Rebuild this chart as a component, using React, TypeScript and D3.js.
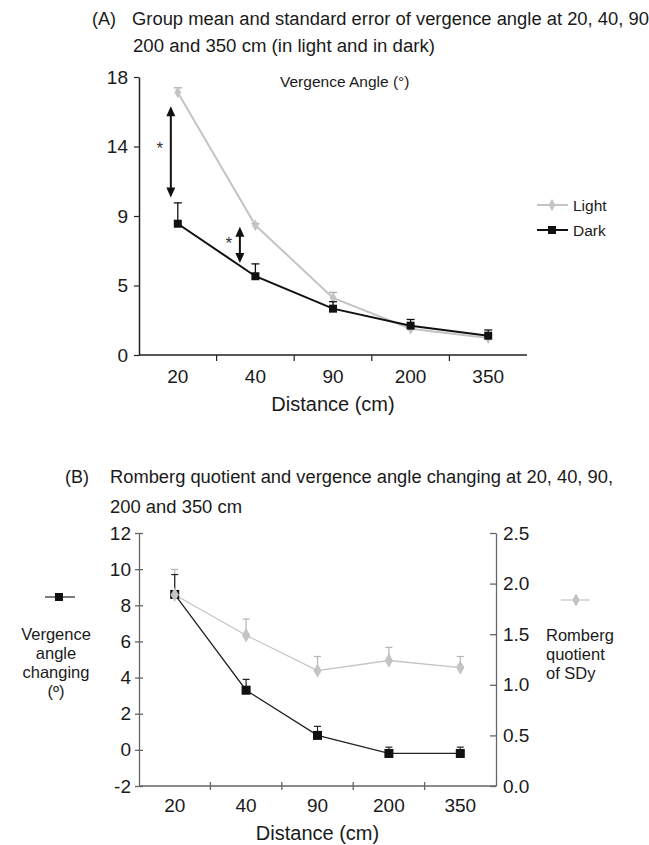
import React, { useRef, useEffect } from "react";
import * as d3 from "d3";

// viewing distances (cm)
const distances = ["20", "40", "90", "200", "350"];

// (A) vergence angle, group mean and SE
const lightMean = [17.0, 8.4, 3.7, 1.7, 1.1];
const lightSE = [0.3, 0.1, 0.35, 0.15, 0.15];
const darkMean = [8.5, 5.1, 3.0, 1.9, 1.25];
const darkSE = [1.35, 0.8, 0.45, 0.4, 0.37];
const angleTicks = [0, 4.5, 9, 13.5, 18];

// significance arrows (light vs dark)
const sigArrows = [
  { cat: "20", offset: 0.41, from: 16.1, to: 10.2, star: 13.5 },
  { cat: "40", offset: 0.3, from: 8.3, to: 5.95, star: 7.3 },
];

// (B) vergence angle changing and Romberg quotient
const vergenceChange = [8.6, 3.3, 0.8, -0.2, -0.2];
const vergenceChangeSE = [1.1, 0.6, 0.5, 0.35, 0.35];
const romberg = [1.89, 1.49, 1.14, 1.24, 1.17];
const rombergSE = [0.25, 0.16, 0.14, 0.13, 0.11];
const leftTicks = [-2, 0, 2, 4, 6, 8, 10, 12];
const rightTicks = [0, 0.5, 1.0, 1.5, 2.0, 2.5];

const FONT = "'Liberation Sans', Arial, sans-serif";
const LIGHT = "#c4c4c4";
const TXT = "#1a1a1a";

function Chart() {
  const ref = useRef<SVGSVGElement>(null);

  useEffect(() => {
    const svg = d3.select(ref.current);
    svg.selectAll("*").remove(); // Clear previous contents
    svg.style("font-family", FONT);

    // small helper for the stretched title lines
    const title = (g: any, x: number, y: number, t: string, w?: number) => {
      const el = g.append("text").attr("x", x).attr("y", y).attr("font-size", 18).attr("fill", TXT).text(t);
      if (w) el.attr("textLength", w).attr("lengthAdjust", "spacingAndGlyphs");
      return el;
    };

    // ---------- panel A ----------
    const gA = svg.append("g");
    const xA = d3.scaleBand().domain(distances).range([139, 527]);
    const yA = d3.scaleLinear().domain([0, 18]).range([355, 77]);
    const cxA = (d: string) => (xA(d) as number) + xA.bandwidth() / 2;

    title(gA, 92, 25, "(A)");
    title(gA, 132, 25, "Group mean and standard error of vergence angle at 20, 40, 90,", 522);
    title(gA, 133, 52, "200 and 350 cm (in light and in dark)", 302);
    gA.append("text").attr("x", 280).attr("y", 87).attr("font-size", 15.5).attr("fill", TXT)
      .text("Vergence Angle (°)");

    const yAxisA = gA.append("g").attr("transform", "translate(139,0)")
      .call(d3.axisLeft(yA).tickValues(angleTicks).tickFormat(d3.format(".0f")).tickSize(5).tickSizeOuter(0));
    yAxisA.select(".domain").attr("stroke", "#222").attr("stroke-width", 1.5);
    yAxisA.selectAll(".tick line").attr("stroke", "#222").attr("stroke-width", 1.2);
    yAxisA.selectAll(".tick text").attr("font-size", 19).attr("fill", TXT).attr("x", -11).attr("font-family", FONT);

    gA.append("line").attr("x1", 139).attr("x2", 527).attr("y1", yA(0)).attr("y2", yA(0))
      .attr("stroke", "#222").attr("stroke-width", 1.5);
    gA.selectAll(".xtickA").data(distances.slice(1)).join("line")
      .attr("x1", (d) => xA(d) as number).attr("x2", (d) => xA(d) as number)
      .attr("y1", yA(0)).attr("y2", yA(0) + 6).attr("stroke", "#222").attr("stroke-width", 1.2);
    gA.selectAll(".xlabA").data(distances).join("text")
      .attr("x", (d) => cxA(d)).attr("y", 383).attr("text-anchor", "middle")
      .attr("font-size", 19).attr("fill", TXT).text((d) => d);
    gA.append("text").attr("x", cxA("90")).attr("y", 411).attr("text-anchor", "middle")
      .attr("font-size", 20).attr("fill", TXT).text("Distance (cm)");

    const lineA = (vals: number[]) =>
      d3.line<number>().x((_, i) => cxA(distances[i])).y((v) => yA(v))(vals);

    // light series
    gA.append("path").attr("d", lineA(lightMean)).attr("fill", "none")
      .attr("stroke", LIGHT).attr("stroke-width", 2);
    lightMean.forEach((v, i) => {
      const x = cxA(distances[i]);
      gA.append("line").attr("x1", x).attr("x2", x).attr("y1", yA(v)).attr("y2", yA(v + lightSE[i]))
        .attr("stroke", "#aaa").attr("stroke-width", 1.3);
      gA.append("line").attr("x1", x - 4).attr("x2", x + 4).attr("y1", yA(v + lightSE[i])).attr("y2", yA(v + lightSE[i]))
        .attr("stroke", "#aaa").attr("stroke-width", 1.3);
    });
    gA.selectAll(".ptLight").data(lightMean).join("path")
      .attr("d", d3.symbol(d3.symbolDiamond, 40)())
      .attr("transform", (v, i) => `translate(${cxA(distances[i])},${yA(v)})`)
      .attr("fill", LIGHT);

    // dark series
    gA.append("path").attr("d", lineA(darkMean)).attr("fill", "none")
      .attr("stroke", "#111").attr("stroke-width", 2);
    darkMean.forEach((v, i) => {
      const x = cxA(distances[i]);
      gA.append("line").attr("x1", x).attr("x2", x).attr("y1", yA(v)).attr("y2", yA(v + darkSE[i]))
        .attr("stroke", "#111").attr("stroke-width", 1.3);
      gA.append("line").attr("x1", x - 4).attr("x2", x + 4).attr("y1", yA(v + darkSE[i])).attr("y2", yA(v + darkSE[i]))
        .attr("stroke", "#111").attr("stroke-width", 1.3);
    });
    gA.selectAll(".ptDark").data(darkMean).join("rect")
      .attr("x", (v, i) => cxA(distances[i]) - 4).attr("y", (v) => yA(v) - 4)
      .attr("width", 8).attr("height", 8).attr("fill", "#111");

    // significance arrows
    sigArrows.forEach((a) => {
      const x = (xA(a.cat) as number) + xA.bandwidth() * a.offset;
      const y1 = yA(a.from);
      const y2 = yA(a.to);
      gA.append("line").attr("x1", x).attr("x2", x).attr("y1", y1 + 8).attr("y2", y2 - 8)
        .attr("stroke", "#111").attr("stroke-width", 2);
      gA.append("path").attr("d", `M${x},${y1} L${x - 4.5},${y1 + 10} L${x + 4.5},${y1 + 10} Z`).attr("fill", "#111");
      gA.append("path").attr("d", `M${x},${y2} L${x - 4.5},${y2 - 10} L${x + 4.5},${y2 - 10} Z`).attr("fill", "#111");
      gA.append("text").attr("x", x - 11).attr("y", yA(a.star) + 7).attr("text-anchor", "middle")
        .attr("font-size", 17).attr("fill", "#333").text("*");
    });

    // legend
    const legA = gA.append("g");
    [{ name: "Light", color: LIGHT, y: 205 }, { name: "Dark", color: "#111", y: 230 }].forEach((s) => {
      legA.append("line").attr("x1", 537).attr("x2", 568).attr("y1", s.y).attr("y2", s.y)
        .attr("stroke", s.color).attr("stroke-width", 2);
      if (s.name === "Light") {
        legA.append("path").attr("d", d3.symbol(d3.symbolDiamond, 40)())
          .attr("transform", `translate(552,${s.y})`).attr("fill", s.color);
      } else {
        legA.append("rect").attr("x", 548).attr("y", s.y - 4).attr("width", 8).attr("height", 8).attr("fill", s.color);
      }
      legA.append("text").attr("x", 573).attr("y", s.y + 5.5).attr("font-size", 15.5).attr("fill", TXT).text(s.name);
    });

    // ---------- panel B ----------
    const gB = svg.append("g");
    const xB = d3.scaleBand().domain(distances).range([139, 496]);
    const yL = d3.scaleLinear().domain([-2, 12]).range([786, 533]);
    const yR = d3.scaleLinear().domain([0, 2.5]).range([786, 533]);
    const cxB = (d: string) => (xB(d) as number) + xB.bandwidth() / 2;
    const AX = "#666";

    title(gB, 65, 483, "(B)");
    title(gB, 110, 483, "Romberg quotient and vergence angle changing at 20, 40, 90,", 503);
    title(gB, 110, 513, "200 and 350 cm", 132);

    const yAxisL = gB.append("g").attr("transform", "translate(139,0)")
      .call(d3.axisLeft(yL).tickValues(leftTicks).tickFormat((d) => String(d)).tickSize(4).tickSizeOuter(0));
    yAxisL.select(".domain").attr("stroke", AX).attr("stroke-width", 1.3);
    yAxisL.selectAll(".tick line").attr("stroke", AX).attr("stroke-width", 1.3).attr("x2", 4).attr("x1", -4);
    yAxisL.selectAll(".tick text").attr("font-size", 19).attr("fill", TXT).attr("x", -8).attr("font-family", FONT);

    const yAxisR = gB.append("g").attr("transform", "translate(496,0)")
      .call(d3.axisRight(yR).tickValues(rightTicks).tickFormat(d3.format(".1f")).tickSize(4).tickSizeOuter(0));
    yAxisR.select(".domain").attr("stroke", AX).attr("stroke-width", 1.3);
    yAxisR.selectAll(".tick line").attr("stroke", AX).attr("stroke-width", 1.3).attr("x1", -6).attr("x2", 0);
    yAxisR.selectAll(".tick text").attr("font-size", 19).attr("fill", TXT).attr("x", 7).attr("font-family", FONT);

    gB.append("line").attr("x1", 139).attr("x2", 496).attr("y1", yL(-2)).attr("y2", yL(-2))
      .attr("stroke", AX).attr("stroke-width", 1.3);
    gB.selectAll(".xtickB").data(distances.slice(1)).join("line")
      .attr("x1", (d) => xB(d) as number).attr("x2", (d) => xB(d) as number)
      .attr("y1", yL(-2) - 4).attr("y2", yL(-2) + 4).attr("stroke", AX).attr("stroke-width", 1.3);
    gB.selectAll(".xlabB").data(distances).join("text")
      .attr("x", (d) => cxB(d)).attr("y", 812).attr("text-anchor", "middle")
      .attr("font-size", 19).attr("fill", TXT).text((d) => d);
    gB.append("text").attr("x", cxB("90")).attr("y", 840).attr("text-anchor", "middle")
      .attr("font-size", 20).attr("fill", TXT).text("Distance (cm)");

    // Romberg quotient (right axis)
    gB.append("path")
      .attr("d", d3.line<number>().x((_, i) => cxB(distances[i])).y((v) => yR(v))(romberg))
      .attr("fill", "none").attr("stroke", LIGHT).attr("stroke-width", 1.3);
    romberg.forEach((v, i) => {
      const x = cxB(distances[i]);
      gB.append("line").attr("x1", x).attr("x2", x).attr("y1", yR(v)).attr("y2", yR(v + rombergSE[i]))
        .attr("stroke", "#b5b5b5").attr("stroke-width", 1.2);
      gB.append("line").attr("x1", x - 3.5).attr("x2", x + 3.5).attr("y1", yR(v + rombergSE[i])).attr("y2", yR(v + rombergSE[i]))
        .attr("stroke", "#b5b5b5").attr("stroke-width", 1.2);
    });

    // vergence angle changing (left axis)
    gB.append("path")
      .attr("d", d3.line<number>().x((_, i) => cxB(distances[i])).y((v) => yL(v))(vergenceChange))
      .attr("fill", "none").attr("stroke", "#222").attr("stroke-width", 1.3);
    vergenceChange.forEach((v, i) => {
      const x = cxB(distances[i]);
      gB.append("line").attr("x1", x).attr("x2", x).attr("y1", yL(v)).attr("y2", yL(v + vergenceChangeSE[i]))
        .attr("stroke", "#222").attr("stroke-width", 1.2);
      gB.append("line").attr("x1", x - 3.5).attr("x2", x + 3.5).attr("y1", yL(v + vergenceChangeSE[i])).attr("y2", yL(v + vergenceChangeSE[i]))
        .attr("stroke", "#222").attr("stroke-width", 1.2);
    });
    gB.selectAll(".ptVC").data(vergenceChange).join("rect")
      .attr("x", (v, i) => cxB(distances[i]) - 4.5).attr("y", (v) => yL(v) - 4.5)
      .attr("width", 9).attr("height", 9).attr("fill", "#111");
    gB.selectAll(".ptRQ").data(romberg).join("path")
      .attr("d", d3.symbol(d3.symbolDiamond, 60)())
      .attr("transform", (v, i) => `translate(${cxB(distances[i])},${yR(v)})`)
      .attr("fill", LIGHT);

    // side legends
    gB.append("line").attr("x1", 45).attr("x2", 75).attr("y1", 597).attr("y2", 597).attr("stroke", "#222").attr("stroke-width", 1.2);
    gB.append("rect").attr("x", 55).attr("y", 593).attr("width", 8).attr("height", 8).attr("fill", "#111");
    ["Vergence", "angle", "changing", "(º)"].forEach((t, i) => {
      gB.append("text").attr("x", 56).attr("y", 640 + i * 19).attr("text-anchor", "middle")
        .attr("font-size", 16.5).attr("fill", TXT).text(t);
    });
    gB.append("line").attr("x1", 561).attr("x2", 590).attr("y1", 600).attr("y2", 600).attr("stroke", LIGHT).attr("stroke-width", 1.2);
    gB.append("path").attr("d", d3.symbol(d3.symbolDiamond, 50)()).attr("transform", "translate(576,600)").attr("fill", LIGHT);
    ["Romberg", "quotient", "of SDy"].forEach((t, i) => {
      gB.append("text").attr("x", 546).attr("y", 641 + i * 19).attr("font-size", 16.5).attr("fill", TXT).text(t);
    });
  }, []);

  return <svg ref={ref} width={649} height={845} style={{ position: "absolute", left: 0, top: 0, background: "#fff" }}></svg>;
}

export default function App() {
  return <Chart />;
}
